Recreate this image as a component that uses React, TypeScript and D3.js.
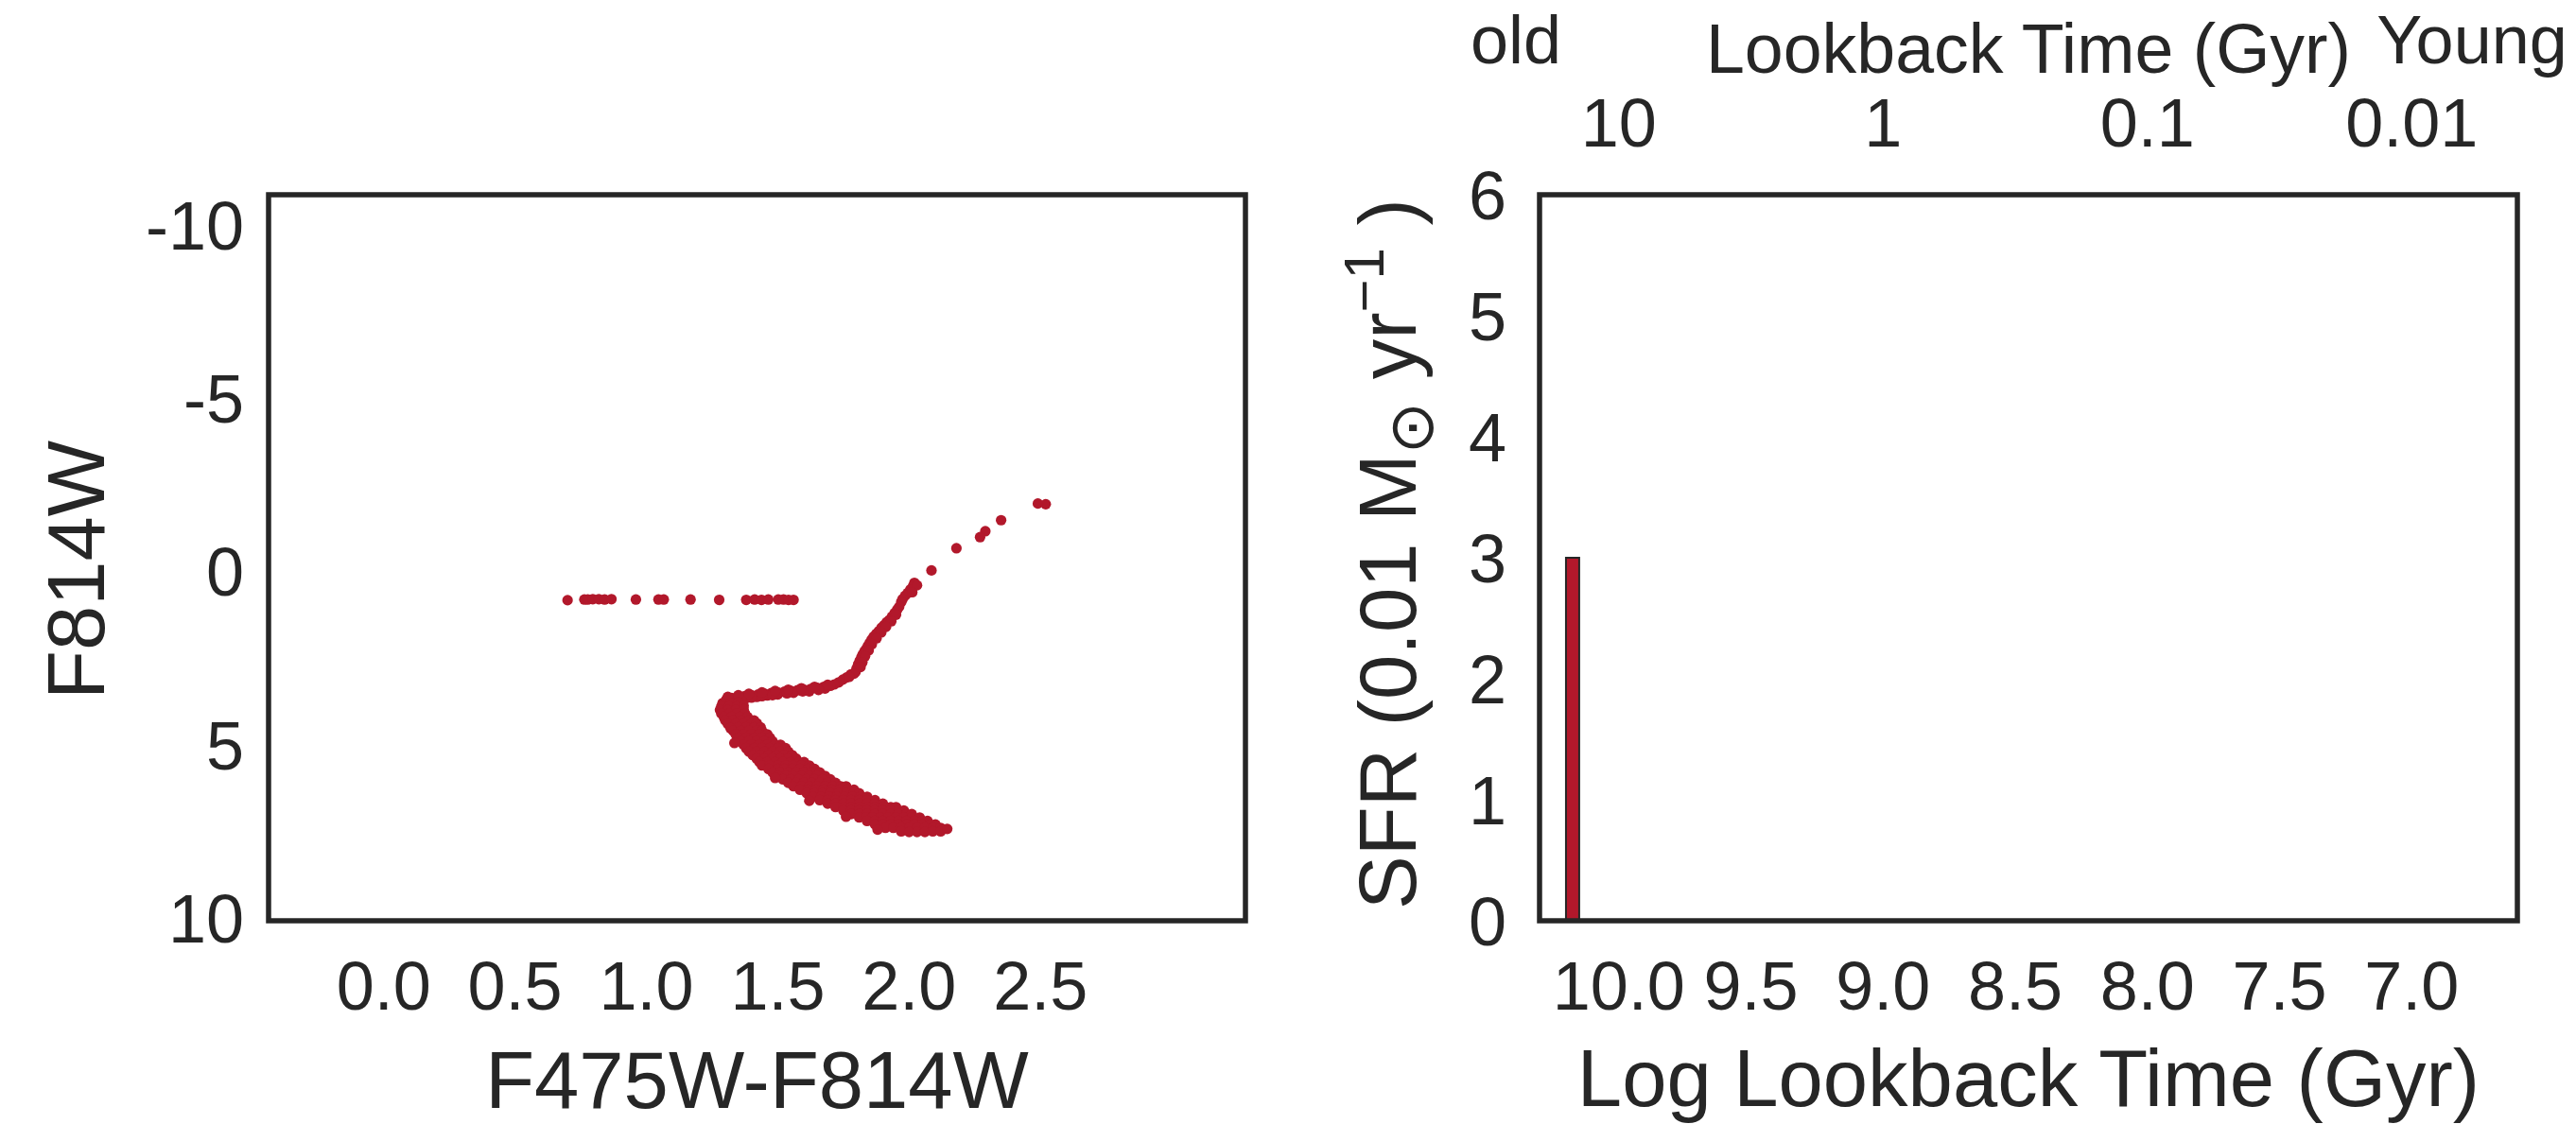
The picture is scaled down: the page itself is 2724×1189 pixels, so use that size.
import React from 'react';
import * as d3 from 'd3';

const W = 2724;
const H = 1189;
const FONT = '"Liberation Sans", Arial, Helvetica, sans-serif';
const INK = '#262626';
const RED = '#b2182b';

// ---- Colour–magnitude diagram: [F475W-F814W, F814W] ----
const horizontalBranch: [number, number][] = [
  [0.70, 0.83], [0.764, 0.81], [0.777, 0.81], [0.796, 0.80], [0.819, 0.80], [0.841, 0.81],
  [0.867, 0.80], [0.96, 0.81], [1.046, 0.81], [1.066, 0.81], [1.168, 0.81], [1.277, 0.82],
  [1.38, 0.82], [1.412, 0.81], [1.438, 0.82], [1.464, 0.81], [1.502, 0.81], [1.522, 0.81],
  [1.541, 0.82], [1.56, 0.82],
];

const giantBranch: [number, number][] = [
  [2.52, -1.94], [2.49, -1.96], [2.35, -1.48], [2.29, -1.16], [2.27, -0.99], [2.18, -0.67],
  [2.085, -0.03], [2.02, 0.33], [2.015, 0.42], [2.005, 0.52], [1.995, 0.62], [1.985, 0.70],
  [1.975, 0.80], [1.97, 0.88], [1.955, 1.10], [1.945, 1.20], [1.935, 1.30], [1.925, 1.40],
  [1.915, 1.46], [1.905, 1.55], [1.895, 1.62], [1.885, 1.72], [1.875, 1.80], [1.865, 1.88],
  [1.857, 1.97], [1.85, 2.06], [1.843, 2.15], [1.836, 2.24], [1.83, 2.31], [1.823, 2.40],
  [1.818, 2.48], [1.812, 2.58], [1.806, 2.68], [1.80, 2.80], [1.796, 2.90], [1.778, 2.97],
  [1.762, 3.06], [1.748, 3.12], [1.732, 3.20], [1.715, 3.26],
  [2.03, 0.40], [2.012, 0.60], [1.962, 1.02], [1.95, 1.25], [1.932, 1.44], [1.912, 1.60],
  [1.894, 1.76], [1.876, 1.93], [1.858, 2.10], [1.846, 2.28], [1.832, 2.45], [1.822, 2.62],
  [1.815, 2.76], [1.79, 2.95], [1.772, 3.04],
];

const subgiantBranch: [number, number][] = [
  [1.70, 3.30], [1.675, 3.33], [1.65, 3.36], [1.625, 3.39], [1.60, 3.41], [1.575, 3.43],
  [1.55, 3.45], [1.525, 3.47], [1.50, 3.49], [1.475, 3.51], [1.45, 3.53], [1.425, 3.55],
  [1.40, 3.57], [1.375, 3.60], [1.35, 3.62], [1.325, 3.65], [1.305, 3.69],
  [1.62, 3.46], [1.56, 3.50], [1.50, 3.55], [1.46, 3.58], [1.42, 3.62], [1.38, 3.66],
  [1.34, 3.70], [1.30, 3.76],
  [1.68, 3.38], [1.655, 3.42], [1.595, 3.46], [1.535, 3.52], [1.48, 3.57], [1.44, 3.60],
  [1.40, 3.64], [1.36, 3.68], [1.32, 3.73],
  [1.69, 3.27], [1.64, 3.33], [1.59, 3.37], [1.54, 3.41], [1.49, 3.45], [1.44, 3.49],
  [1.39, 3.53], [1.35, 3.57], [1.31, 3.62],
];

const mainSequence: [number, number][] = [
  [1.29, 3.80], [1.32, 3.80], [1.35, 3.78],
  [1.285, 3.90], [1.315, 3.90], [1.345, 3.90], [1.37, 3.88],
  [1.28, 4.00], [1.31, 4.00], [1.34, 4.00], [1.37, 3.98],
  [1.285, 4.10], [1.315, 4.10], [1.345, 4.10], [1.375, 4.10],
  [1.295, 4.20], [1.325, 4.20], [1.355, 4.20], [1.385, 4.20],
  [1.30, 4.30], [1.33, 4.30], [1.36, 4.30], [1.39, 4.30], [1.41, 4.30],
  [1.31, 4.40], [1.34, 4.40], [1.37, 4.40], [1.40, 4.40], [1.42, 4.38],
  [1.32, 4.52], [1.35, 4.50], [1.38, 4.50], [1.41, 4.50], [1.435, 4.50],
  [1.33, 4.60], [1.36, 4.60], [1.39, 4.60], [1.42, 4.60], [1.44, 4.60],
  [1.34, 4.70], [1.37, 4.70], [1.40, 4.70], [1.43, 4.70], [1.46, 4.70],
  [1.35, 4.80], [1.38, 4.80], [1.41, 4.80], [1.44, 4.80], [1.47, 4.80],
  [1.36, 4.90], [1.39, 4.90], [1.42, 4.90], [1.45, 4.90], [1.48, 4.90],
  [1.37, 5.00], [1.40, 5.00], [1.43, 5.00], [1.46, 5.00], [1.49, 5.00], [1.51, 5.00],
  [1.38, 5.10], [1.41, 5.10], [1.44, 5.10], [1.47, 5.10], [1.50, 5.10], [1.53, 5.10],
  [1.39, 5.20], [1.42, 5.20], [1.45, 5.20], [1.48, 5.20], [1.51, 5.20], [1.54, 5.20],
  [1.405, 5.30], [1.435, 5.30], [1.465, 5.30], [1.495, 5.30], [1.525, 5.30], [1.555, 5.30],
  [1.42, 5.40], [1.45, 5.40], [1.48, 5.40], [1.51, 5.40], [1.54, 5.40], [1.57, 5.40],
  [1.43, 5.50], [1.46, 5.50], [1.49, 5.50], [1.52, 5.50], [1.55, 5.50], [1.58, 5.50], [1.60, 5.50],
  [1.44, 5.60], [1.47, 5.60], [1.50, 5.60], [1.53, 5.60], [1.56, 5.60], [1.59, 5.60], [1.62, 5.60],
  [1.465, 5.70], [1.50, 5.70], [1.525, 5.70], [1.555, 5.70], [1.585, 5.70], [1.615, 5.70], [1.64, 5.70],
  [1.48, 5.80], [1.51, 5.80], [1.54, 5.80], [1.57, 5.80], [1.60, 5.80], [1.63, 5.80], [1.66, 5.80],
  [1.50, 5.90], [1.53, 5.90], [1.56, 5.90], [1.59, 5.90], [1.62, 5.90], [1.65, 5.90], [1.68, 5.90],
  [1.52, 6.00], [1.55, 6.00], [1.58, 6.00], [1.61, 6.00], [1.64, 6.00], [1.67, 6.00], [1.70, 6.00],
  [1.54, 6.10], [1.57, 6.10], [1.60, 6.10], [1.63, 6.10], [1.66, 6.10], [1.69, 6.10], [1.72, 6.10],
  [1.56, 6.20], [1.59, 6.20], [1.62, 6.20], [1.65, 6.20], [1.68, 6.20], [1.71, 6.20], [1.74, 6.20], [1.76, 6.20],
  [1.585, 6.30], [1.615, 6.30], [1.645, 6.30], [1.675, 6.30], [1.705, 6.30], [1.735, 6.30], [1.765, 6.30], [1.79, 6.30],
  [1.61, 6.40], [1.64, 6.40], [1.67, 6.40], [1.70, 6.40], [1.73, 6.40], [1.76, 6.40], [1.79, 6.40], [1.81, 6.40],
  [1.635, 6.50], [1.665, 6.50], [1.695, 6.50], [1.725, 6.50], [1.755, 6.50], [1.785, 6.50], [1.815, 6.50], [1.84, 6.50],
  [1.66, 6.60], [1.69, 6.60], [1.72, 6.60], [1.75, 6.60], [1.78, 6.60], [1.81, 6.60], [1.84, 6.60], [1.87, 6.60],
  [1.69, 6.70], [1.72, 6.70], [1.75, 6.70], [1.78, 6.70], [1.81, 6.70], [1.84, 6.70], [1.87, 6.70], [1.90, 6.70],
  [1.72, 6.80], [1.75, 6.80], [1.78, 6.80], [1.81, 6.80], [1.84, 6.80], [1.87, 6.80], [1.90, 6.80], [1.93, 6.80], [1.95, 6.80],
  [1.75, 6.90], [1.78, 6.90], [1.81, 6.90], [1.84, 6.90], [1.87, 6.90], [1.90, 6.90], [1.93, 6.90], [1.96, 6.90], [1.98, 6.90],
  [1.78, 7.00], [1.81, 7.00], [1.84, 7.00], [1.87, 7.00], [1.90, 7.00], [1.93, 7.00], [1.96, 7.00], [1.99, 7.00], [2.01, 7.00],
  [1.81, 7.10], [1.835, 7.10], [1.86, 7.10], [1.89, 7.10], [1.92, 7.10], [1.95, 7.10], [1.98, 7.10], [2.01, 7.10], [2.04, 7.10],
  [1.84, 7.20], [1.87, 7.20], [1.90, 7.20], [1.93, 7.20], [1.96, 7.20], [1.99, 7.20], [2.02, 7.20], [2.05, 7.20], [2.07, 7.20],
  [1.87, 7.30], [1.90, 7.30], [1.93, 7.30], [1.96, 7.30], [1.99, 7.30], [2.02, 7.30], [2.05, 7.30], [2.08, 7.30], [2.10, 7.30],
  [1.91, 7.40], [1.94, 7.40], [1.97, 7.40], [2.00, 7.40], [2.03, 7.40], [2.06, 7.40], [2.09, 7.40], [2.12, 7.40],
  [1.97, 7.50], [2.00, 7.52], [2.03, 7.52], [2.06, 7.52], [2.09, 7.50], [2.12, 7.50], [2.145, 7.43],
  [1.49, 5.96], [1.62, 6.62], [1.335, 4.95], [1.76, 7.08], [1.88, 7.45],
];

const colorTicks = [0, 0.5, 1, 1.5, 2, 2.5];
const magTicks = [-10, -5, 0, 5, 10];

// ---- Star formation history ----
const binOlderEdge = [10.2];
const binYoungerEdge = [10.15];
const binSfr = [3.0];
const logAgeTicks = [10, 9.5, 9, 8.5, 8, 7.5, 7];
const sfrTicks = [0, 1, 2, 3, 4, 5, 6];
const lookbackTickPos = [10, 9, 8, 7];
const lookbackTickLabels = ['10', '1', '0.1', '0.01'];

export default function App() {
  const L = { x0: 284, x1: 1317, y0: 206, y1: 974 };
  const R = { x0: 1628, x1: 2662, y0: 206, y1: 974 };

  const cx = d3.scaleLinear().domain([-0.438, 3.28]).range([L.x0, L.x1]);
  const cy = d3.scaleLinear().domain([-10.87, 10.08]).range([L.y0, L.y1]);
  const sx = d3.scaleLinear().domain([10.3, 6.6]).range([R.x0, R.x1]);
  const sy = d3.scaleLinear().domain([0, 6]).range([R.y1, R.y0]);

  const stars = [...horizontalBranch, ...giantBranch, ...subgiantBranch, ...mainSequence];
  const fmt1 = d3.format('.1f');

  const tickSize = 72;
  const labelSize = 85;

  return (
    <svg
      width={W}
      height={H}
      viewBox={`0 0 ${W} ${H}`}
      style={{ position: 'absolute', left: 0, top: 0, background: '#fff' }}
      fontFamily={FONT}
      fill={INK}
    >
      <rect x={0} y={0} width={W} height={H} fill="#fff" />

      {/* Left: colour–magnitude diagram */}
      <g>
        {stars.map(([c, m], i) => (
          <circle key={i} cx={cx(c)} cy={cy(m)} r={5.6} fill={RED} />
        ))}
        <rect
          x={L.x0}
          y={L.y0}
          width={L.x1 - L.x0}
          height={L.y1 - L.y0}
          fill="none"
          stroke={INK}
          strokeWidth={5.5}
        />
        {colorTicks.map((t) => (
          <text key={t} x={cx(t)} y={1068} fontSize={tickSize} textAnchor="middle">
            {fmt1(t)}
          </text>
        ))}
        {magTicks.map((t) => (
          <text key={t} x={258} y={cy(t)} dy="0.36em" fontSize={tickSize} textAnchor="end">
            {t}
          </text>
        ))}
        <text x={(L.x0 + L.x1) / 2} y={1172} fontSize={labelSize} textAnchor="middle">
          F475W-F814W
        </text>
        <text
          transform={`translate(110, ${(L.y0 + L.y1) / 2 + 13}) rotate(-90)`}
          fontSize={labelSize}
          textAnchor="middle"
        >
          F814W
        </text>
      </g>

      {/* Right: star formation history */}
      <g>
        {binSfr.map((v, i) => (
          <rect
            key={i}
            x={sx(binOlderEdge[i])}
            y={sy(v)}
            width={sx(binYoungerEdge[i]) - sx(binOlderEdge[i])}
            height={sy(0) - sy(v)}
            fill={RED}
            stroke={INK}
            strokeWidth={2}
          />
        ))}
        <rect
          x={R.x0}
          y={R.y0}
          width={R.x1 - R.x0}
          height={R.y1 - R.y0}
          fill="none"
          stroke={INK}
          strokeWidth={5.5}
        />
        {logAgeTicks.map((t) => (
          <text key={t} x={sx(t)} y={1068} fontSize={tickSize} textAnchor="middle">
            {fmt1(t)}
          </text>
        ))}
        {sfrTicks.map((t) => (
          <text key={t} x={1593} y={sy(t)} dy="0.36em" fontSize={tickSize} textAnchor="end">
            {t}
          </text>
        ))}
        {lookbackTickPos.map((t, i) => (
          <text key={t} x={sx(t)} y={155} fontSize={tickSize} textAnchor="middle">
            {lookbackTickLabels[i]}
          </text>
        ))}
        <text x={1603} y={67} fontSize={tickSize} textAnchor="middle">old</text>
        <text x={(R.x0 + R.x1) / 2} y={77} fontSize={73.5} textAnchor="middle">
          Lookback Time (Gyr)
        </text>
        <text x={2614} y={67} fontSize={tickSize} textAnchor="middle">Young</text>
        <text x={(R.x0 + R.x1) / 2} y={1170} fontSize={labelSize} textAnchor="middle">
          Log Lookback Time (Gyr)
        </text>
        <text
          transform={`translate(1497, ${(R.y0 + R.y1) / 2 - 4}) rotate(-90)`}
          fontSize={labelSize}
          textAnchor="middle"
        >
          SFR (0.01 M
          <tspan dy={18} fontSize={66} fontFamily='"DejaVu Sans", sans-serif'>⊙</tspan>
          <tspan dy={-18}> yr</tspan>
          <tspan dy={-34} fontSize={60}>−1</tspan>
          <tspan dy={34}> )</tspan>
        </text>
      </g>
    </svg>
  );
}
